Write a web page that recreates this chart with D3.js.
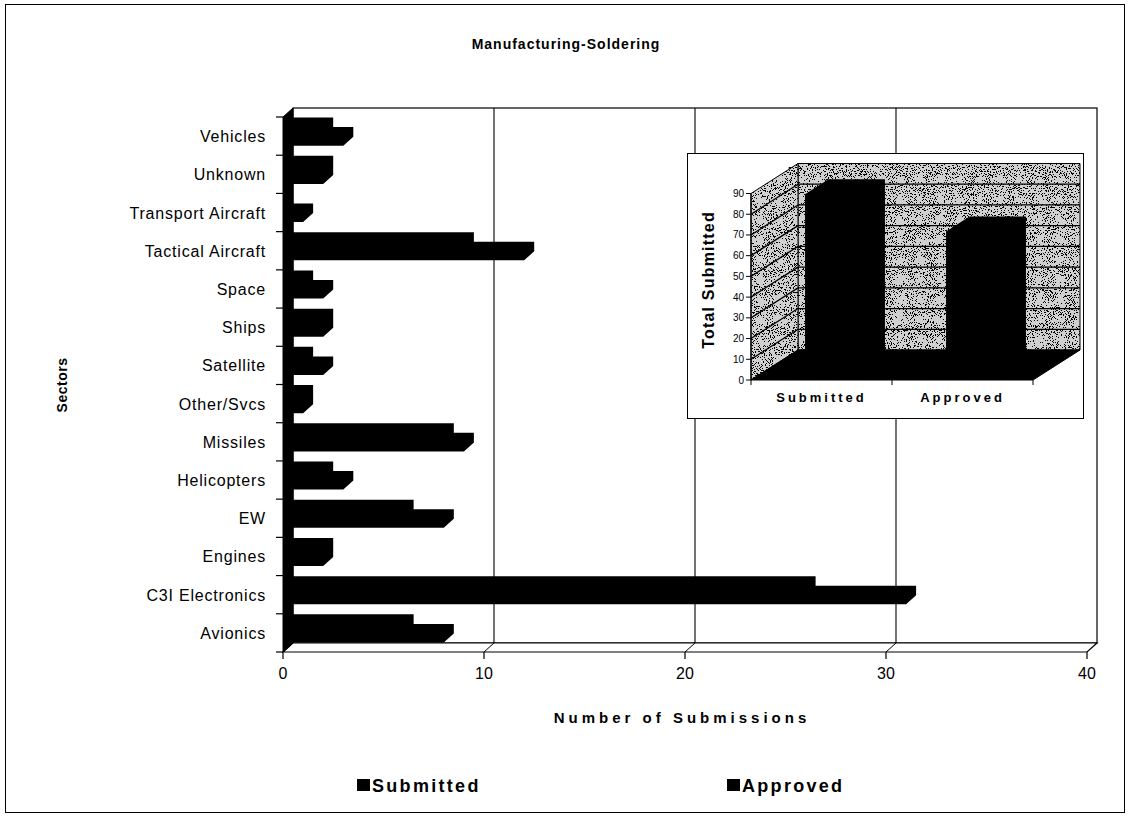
<!DOCTYPE html>
<html>
<head>
<meta charset="utf-8">
<script src="https://cdn.jsdelivr.net/npm/d3@7"></script>
<style>
  html, body { margin: 0; padding: 0; background: #fff; }
  svg { display: block; }
  text { font-family: "Liberation Sans", Arial, sans-serif; fill: #000; }
</style>
</head>
<body>
<svg id="chart" width="1131" height="818"></svg>
<script>
// Sectors, listed bottom to top as they appear on the category axis
const categories = ["Avionics", "C3I Electronics", "Engines", "EW", "Helicopters", "Missiles",
  "Other/Svcs", "Satellite", "Ships", "Space", "Tactical Aircraft", "Transport Aircraft",
  "Unknown", "Vehicles"];
const submitted = [8, 31, 2, 8, 3, 9, 1, 2, 2, 2, 12, 1, 2, 3];
const approved  = [6, 26, 2, 6, 2, 8, 1, 1, 2, 1, 9, 0, 2, 2];
const seriesNames = ["Submitted", "Approved"];
const valueTicks = [0, 10, 20, 30, 40];
const insetTicks = [0, 10, 20, 30, 40, 50, 60, 70, 80, 90];

const svg = d3.select("#chart");
const defs = svg.append("defs");

// speckled fill used on the walls of the small 3-D chart
const f = defs.append("filter").attr("id", "stipple")
  .attr("x", 0).attr("y", 0).attr("width", 1).attr("height", 1);
f.append("feTurbulence").attr("type", "fractalNoise").attr("baseFrequency", 0.95)
  .attr("numOctaves", 2).attr("seed", 7).attr("result", "noise");
f.append("feColorMatrix").attr("in", "noise").attr("type", "matrix")
  .attr("values", "0 0 0 0 0  0 0 0 0 0  0 0 0 0 0  1 0 0 0 0").attr("result", "a");
f.append("feComponentTransfer").attr("in", "a").attr("result", "dots")
  .append("feFuncA").attr("type", "discrete").attr("tableValues", "0 0 0 0 0 0 1 1 1 1");
f.append("feComposite").attr("in", "dots").attr("in2", "SourceGraphic").attr("operator", "in");

// outer chart frame
svg.append("rect").attr("x", 5.5).attr("y", 4.5).attr("width", 1119).attr("height", 808)
  .attr("fill", "#fff").attr("stroke", "#000").attr("stroke-width", 1);

svg.append("text").attr("x", 566).attr("y", 49).attr("text-anchor", "middle")
  .style("font-size", "14px").style("font-weight", "bold").style("letter-spacing", "1px")
  .text("Manufacturing-Soldering");

// ---------- main 3-D bar chart ----------
const DX = 10, DY = -9;           // depth offset of the back plane
const x = d3.scaleLinear().domain([0, 40]).range([283, 1087]);
const y = d3.scaleBand().domain(categories).range([652, 117]).paddingInner(0).paddingOuter(0);
const ys = d3.scaleBand().domain(["Approved", "Submitted"]).range([0, y.bandwidth()])
  .paddingInner(0).paddingOuter(1);
const yTop = y.range()[1], yBot = y.range()[0];
const x0 = x(0), x1 = x(40);

const line = d3.line();
const g = svg.append("g");

// back wall with gridlines
g.append("rect").attr("x", x0 + DX).attr("y", yTop + DY).attr("width", x1 - x0).attr("height", yBot - yTop)
  .attr("fill", "#fff").attr("stroke", "#000").attr("stroke-width", 1.2);
g.selectAll(".vgrid").data(valueTicks.filter(v => v > 0 && v < 40)).join("path")
  .attr("d", v => line([[x(v) + DX, yTop + DY], [x(v) + DX, yBot + DY]]))
  .attr("stroke", "#000").attr("stroke-width", 1.1).attr("fill", "none");

// floor
g.append("path").attr("d", line([[x0, yBot], [x1, yBot], [x1 + DX, yBot + DY], [x0 + DX, yBot + DY]]) + "Z")
  .attr("fill", "#fff").attr("stroke", "#000").attr("stroke-width", 1.2);
g.selectAll(".fgrid").data(valueTicks.filter(v => v > 0 && v < 40)).join("path")
  .attr("d", v => line([[x(v), yBot], [x(v) + DX, yBot + DY]]))
  .attr("stroke", "#000").attr("stroke-width", 1).attr("fill", "none");

// left wall
g.append("path").attr("d", line([[x0, yBot], [x0, yTop], [x0 + DX, yTop + DY], [x0 + DX, yBot + DY]]) + "Z")
  .attr("fill", "#000").attr("stroke", "#000").attr("stroke-width", 1);

// bars: front face + top face + end face as one outline
function barPath(v, y0, y1) {
  const xv = x(v);
  return line([[x0, y1], [x0, y0], [x0 + DX, y0 + DY], [xv + DX, y0 + DY], [xv + DX, y1 + DY], [xv, y1]]) + "Z";
}
const rows = categories.map((c, i) => ({ c, s: submitted[i], a: approved[i] }));
const barG = g.append("g");
rows.forEach(r => {
  const base = y(r.c);
  const sy = base + ys("Submitted"), ay = base + ys("Approved"), h = ys.bandwidth();
  barG.append("path").attr("d", barPath(r.s, sy, sy + h)).attr("fill", "#000");
  barG.append("path").attr("d", barPath(r.a, ay, ay + h)).attr("fill", "#000");
});

// ticks
g.selectAll(".xt").data(valueTicks).join("path")
  .attr("d", v => line([[x(v), yBot], [x(v), yBot + 7]]))
  .attr("stroke", "#000").attr("stroke-width", 1.2);
const bounds = categories.map(c => y(c)).concat([yBot]);
g.selectAll(".yt").data(bounds).join("path")
  .attr("d", b => line([[x0 - 7, b], [x0, b]]))
  .attr("stroke", "#000").attr("stroke-width", 1.2);

// tick labels
g.selectAll(".xl").data(valueTicks).join("text")
  .attr("x", v => x(v)).attr("y", yBot + 27).attr("text-anchor", "middle")
  .style("font-size", "16px").text(v => v);
g.selectAll(".yl").data(categories).join("text")
  .attr("x", 266).attr("y", c => y(c) + y.bandwidth() / 2 + 6).attr("text-anchor", "end")
  .style("font-size", "16px").style("letter-spacing", "0.8px").text(c => c);

// axis titles
svg.append("text").attr("x", 682).attr("y", 723).attr("text-anchor", "middle")
  .style("font-size", "15px").style("font-weight", "bold").style("letter-spacing", "4px")
  .text("Number of Submissions");
svg.append("text").attr("transform", "translate(67,385) rotate(-90)").attr("text-anchor", "middle")
  .style("font-size", "14px").style("font-weight", "bold").style("letter-spacing", "0.5px")
  .text("Sectors");

// legend
const legendX = [357, 727];
seriesNames.forEach((s, i) => {
  svg.append("rect").attr("x", legendX[i]).attr("y", 779).attr("width", 13).attr("height", 12).attr("fill", "#000");
  svg.append("text").attr("x", legendX[i] + 15).attr("y", 792)
    .style("font-size", "18px").style("font-weight", "bold").style("letter-spacing", "2.3px").text(s);
});

// ---------- inset: totals as 3-D columns ----------
const totals = [d3.sum(submitted), d3.sum(approved)];
const ig = svg.append("g");
ig.append("rect").attr("x", 687.5).attr("y", 153.5).attr("width", 396).attr("height", 265)
  .attr("fill", "#fff").attr("stroke", "#000").attr("stroke-width", 1);
ig.append("text").attr("x", 883).attr("y", 175).attr("text-anchor", "middle")
  .style("font-size", "11px").style("font-weight", "bold").style("letter-spacing", "2.6px")
  .text("Manufacturing-Soldering");

const IDX = 47, IDY = -30;
const iu = d3.scaleBand().domain(seriesNames).range([751, 1033]).paddingInner(0.6).paddingOuter(0.3);
const iv = d3.scaleLinear().domain([0, 90]).range([380, 193.5]);
const u0 = 751, u1 = 1033, v0 = iv(0), v1 = iv(90);

function stippled(d) {
  ig.append("path").attr("d", d).attr("fill", "#d0d0d0");
  ig.append("path").attr("d", d).attr("fill", "#000").attr("filter", "url(#stipple)");
  ig.append("path").attr("d", d).attr("fill", "none").attr("stroke", "#000").attr("stroke-width", 1);
}
// back wall
stippled(line([[u0 + IDX, v0 + IDY], [u1 + IDX, v0 + IDY], [u1 + IDX, v1 + IDY], [u0 + IDX, v1 + IDY]]) + "Z");
// left wall
stippled(line([[u0, v0], [u0, v1], [u0 + IDX, v1 + IDY], [u0 + IDX, v0 + IDY]]) + "Z");
const inner = insetTicks.filter(v => v > 0 && v < 90);
ig.selectAll(".bw").data(inner).join("path")
  .attr("d", v => line([[u0 + IDX, iv(v) + IDY], [u1 + IDX, iv(v) + IDY]]))
  .attr("stroke", "#000").attr("stroke-width", 1.3);
ig.selectAll(".lw").data(inner).join("path")
  .attr("d", v => line([[u0, iv(v)], [u0 + IDX, iv(v) + IDY]]))
  .attr("stroke", "#000").attr("stroke-width", 1.3);
// floor
ig.append("path").attr("d", line([[u0, v0], [u1, v0], [u1 + IDX, v0 + IDY], [u0 + IDX, v0 + IDY]]) + "Z")
  .attr("fill", "#000").attr("stroke", "#000");

// columns occupy the middle half of the depth
const w0 = 0.25, w1 = 0.75;
seriesNames.forEach((s, i) => {
  const xl = iu(s), xr = xl + iu.bandwidth(), yt = iv(totals[i]), yb = iv(0);
  const a = IDX * w0, b = IDY * w0, c = IDX * w1, d = IDY * w1;
  ig.append("path").attr("d", line([[xl + a, yb + b], [xl + a, yt + b], [xl + c, yt + d], [xr + c, yt + d],
    [xr + c, yb + d], [xr + a, yb + b]]) + "Z").attr("fill", "#000");
});

// inset axes
ig.append("path").attr("d", line([[u0, v0], [u0, v1]])).attr("stroke", "#000").attr("stroke-width", 1.2);
ig.selectAll(".it").data(insetTicks).join("path")
  .attr("d", v => line([[u0 - 5, iv(v)], [u0, iv(v)]])).attr("stroke", "#000").attr("stroke-width", 1);
ig.selectAll(".il").data(insetTicks).join("text")
  .attr("x", u0 - 7).attr("y", v => iv(v) + 3.5).attr("text-anchor", "end")
  .style("font-size", "10px").text(v => v);
ig.selectAll(".ct").data([u0, iu("Approved") - iu.step() * 0.3, u1]).join("path")
  .attr("d", p => line([[p, v0], [p, v0 + 5]])).attr("stroke", "#000").attr("stroke-width", 1);
ig.selectAll(".cl").data(seriesNames).join("text")
  .attr("x", s => iu(s) + iu.bandwidth() / 2).attr("y", 402).attr("text-anchor", "middle")
  .style("font-size", "13px").style("font-weight", "bold").style("letter-spacing", "3px").text(s => s);
ig.append("text").attr("transform", "translate(714,280) rotate(-90)").attr("text-anchor", "middle")
  .style("font-size", "16px").style("font-weight", "bold").style("letter-spacing", "1.2px").text("Total Submitted");
</script>
</body>
</html>
